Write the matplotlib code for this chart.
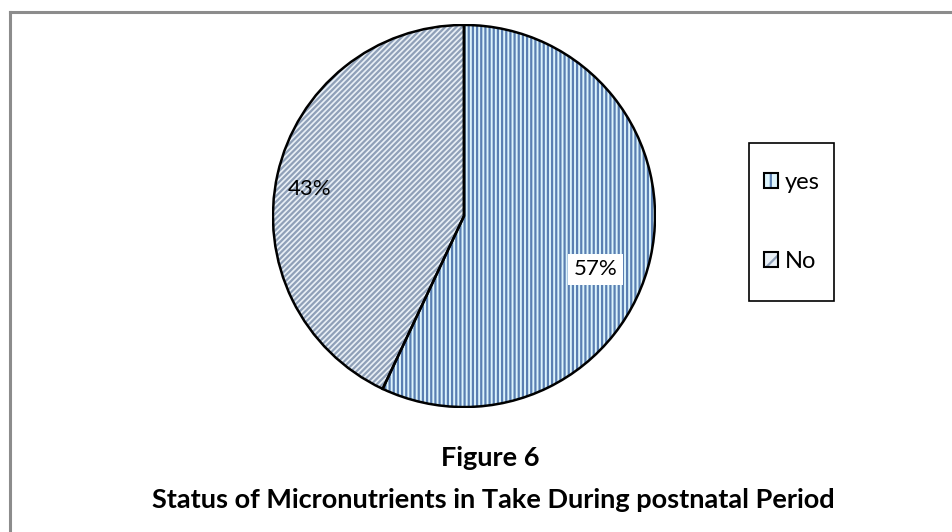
import matplotlib
matplotlib.use('Agg')
import matplotlib.pyplot as plt
from matplotlib.patches import Patch, Wedge, Rectangle
from matplotlib.lines import Line2D
from matplotlib.legend_handler import HandlerTuple

labels = ['yes', 'No']
values = [57, 43]
face_colors = ['#DDF4FC', '#E9F0F6']
hatch_colors = ['#5A7FB2', '#8FA0B8']
hatches = ['||||', '//////']

plt.rcParams['font.family'] = ['Lato', 'DejaVu Sans']
plt.rcParams['hatch.linewidth'] = 1.6

W, H = 952, 532
fig = plt.figure(figsize=(W / 100, H / 100), dpi=100)

# outer frame: only the top and left edges are visible
fig.add_artist(Line2D([10 / W, 10 / W], [0, 1 - 12 / H], color='#8C8C8C', lw=2.2,
                      transform=fig.transFigure))
fig.add_artist(Line2D([10 / W, 1], [1 - 12 / H, 1 - 12 / H], color='#8C8C8C', lw=2.2,
                      transform=fig.transFigure))

# pie axes placed so that the circle is about 384 px across
cx, cy, r = 464, 216, 192
ax = fig.add_axes([(cx - r) / W, (H - cy - r) / H, 2 * r / W, 2 * r / H])

wedges, _ = ax.pie(values, startangle=90, counterclock=False, radius=1,
                   colors=face_colors, wedgeprops=dict(linewidth=0))
for w, hc, h in zip(wedges, hatch_colors, hatches):
    w.set_edgecolor(hc)
    w.set_hatch(h)
    w.set_linewidth(0)
    # black outline drawn on top of the hatched fill
    ax.add_patch(Wedge(w.center, w.r, w.theta1, w.theta2, fill=False,
                       edgecolor='black', linewidth=1.8, zorder=3))
ax.set_xlim(-1.005, 1.005)
ax.set_ylim(-1.005, 1.005)
ax.set_aspect('equal')
ax.axis('off')

ax.text(-0.81, 0.14, f'{values[1]}%', fontsize=16, ha='center', va='center', zorder=4)
ax.text(0.69, -0.28, f'{values[0]}%', fontsize=16, ha='center', va='center', zorder=4,
        bbox=dict(facecolor='white', edgecolor='none', pad=4))

# legend: entries without a frame, box drawn separately
handles = []
for fc, hc, h in zip(face_colors, hatch_colors, hatches):
    handles.append((Patch(facecolor=fc, edgecolor=hc, hatch=h[:2], linewidth=0),
                    Patch(facecolor='none', edgecolor='black', linewidth=1.5)))
fig.legend(handles, labels, loc='center',
           bbox_to_anchor=((764 + 820) / 2 / W, 1 - 222 / H),
           handler_map={tuple: HandlerTuple(ndivide=1)},
           fontsize=17, frameon=False,
           handlelength=0.6, handleheight=0.6, handletextpad=0.3,
           labelspacing=2.45, borderpad=0, borderaxespad=0)
fig.add_artist(Rectangle((749 / W, 1 - 301 / H), 85 / W, 158 / H, fill=False,
                         edgecolor='black', linewidth=1.2, transform=fig.transFigure))

fig.text(490 / W, 1 - 458 / H, 'Figure 6', fontsize=19.5, fontweight='bold',
         ha='center', va='center')
fig.text(493 / W, 1 - 500 / H, 'Status of Micronutrients in Take During postnatal Period',
         fontsize=19.5, fontweight='bold', ha='center', va='center')

fig.savefig('out.png', dpi=100)
